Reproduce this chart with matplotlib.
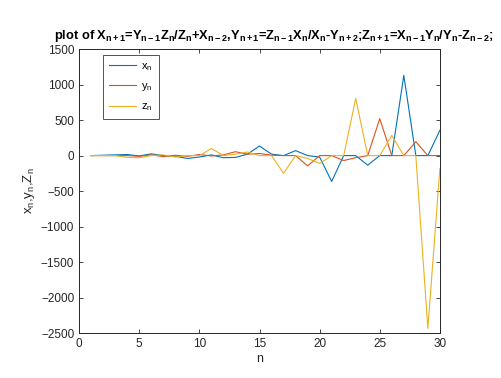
import numpy as np
import matplotlib
matplotlib.use("Agg")
import matplotlib.pyplot as plt

plt.rcParams['font.family'] = ['Liberation Sans', 'DejaVu Sans']
plt.rcParams['mathtext.fontset'] = 'custom'
plt.rcParams['mathtext.rm'] = 'Liberation Sans'
plt.rcParams['mathtext.it'] = 'Liberation Sans'
plt.rcParams['mathtext.bf'] = 'Liberation Sans:bold'

n = np.arange(1, 31)

x_n = [0, 5, 10, 15, -5, 25, 0, -10, -40, -20,
       10, -30, -25, 20, 135, 20, 0, 70, 0, -20,
       -365, 0, 0, -135, 0, 0, 1130, 0, 0, 355]
y_n = [0, 0, 0, 0, -10, 10, -15, 5, -10, 15,
       -5, 10, 55, 20, 30, 5, 0, 0, -145, 0,
       0, -70, -30, 0, 520, 0, 0, 195, 0, 0]
z_n = [0, 0, 0, -25, -30, 0, 10, -20, 0, 0,
       100, 0, 20, 50, 0, 0, -250, 0, -40, -110,
       0, 0, 805, 0, 0, 285, 0, 0, -2435, -180]


def sb(s):
    # bold subscript without operator spacing
    return '$_\\mathbf{' + s + '}$'


title = ('plot of X' + sb('n+1') + '=Y' + sb('n-1') + 'Z' + sb('n') + '/Z' + sb('n')
         + '+X' + sb('n-2') + ',Y' + sb('n+1') + '=Z' + sb('n-1') + 'X' + sb('n')
         + '/X' + sb('n') + '-Y' + sb('n+2') + ';Z' + sb('n+1') + '=X' + sb('n-1')
         + 'Y' + sb('n') + '/Y' + sb('n') + '-Z' + sb('n-2') + ';')

fig = plt.figure(figsize=(5.01, 3.78), dpi=100)
ax = fig.add_axes([0.158, 0.119, 0.720, 0.751])

ax.plot(n, x_n, color='#0072BD', lw=0.8, label='x$_\\mathregular{n}$')
ax.plot(n, y_n, color='#D95319', lw=0.8, label='y$_\\mathregular{n}$')
ax.plot(n, z_n, color='#EDB120', lw=0.8, label='z$_\\mathregular{n}$')

ax.set_xlim(0, 30)
ax.set_ylim(-2500, 1500)
ax.set_xticks(np.arange(0, 31, 5))
ax.set_yticks(np.arange(-2500, 1501, 500))
ax.tick_params(direction='in', length=3, width=0.6, top=True, right=True,
               labelsize=8.5, colors='#262626')
for s in ax.spines.values():
    s.set_linewidth(0.7)
    s.set_color('#262626')

ax.set_xlabel('n', fontsize=9, color='#262626', labelpad=2)
ax.set_ylabel('x$_\\mathregular{n}$,y$_\\mathregular{n}$,Z$_\\mathregular{n}$',
              fontsize=9.5, color='#262626', labelpad=3)
ax.set_title(title, fontsize=9.3, fontweight='bold', pad=7, x=0.54)

leg = ax.legend(loc='upper left', bbox_to_anchor=(0.066, 0.98), borderaxespad=0,
                fontsize=8, fancybox=False, edgecolor='#262626', handlelength=2.4,
                handletextpad=0.5, labelspacing=0.75, borderpad=0.55)
leg.get_frame().set_linewidth(0.7)

fig.savefig('out.png', dpi=100)
